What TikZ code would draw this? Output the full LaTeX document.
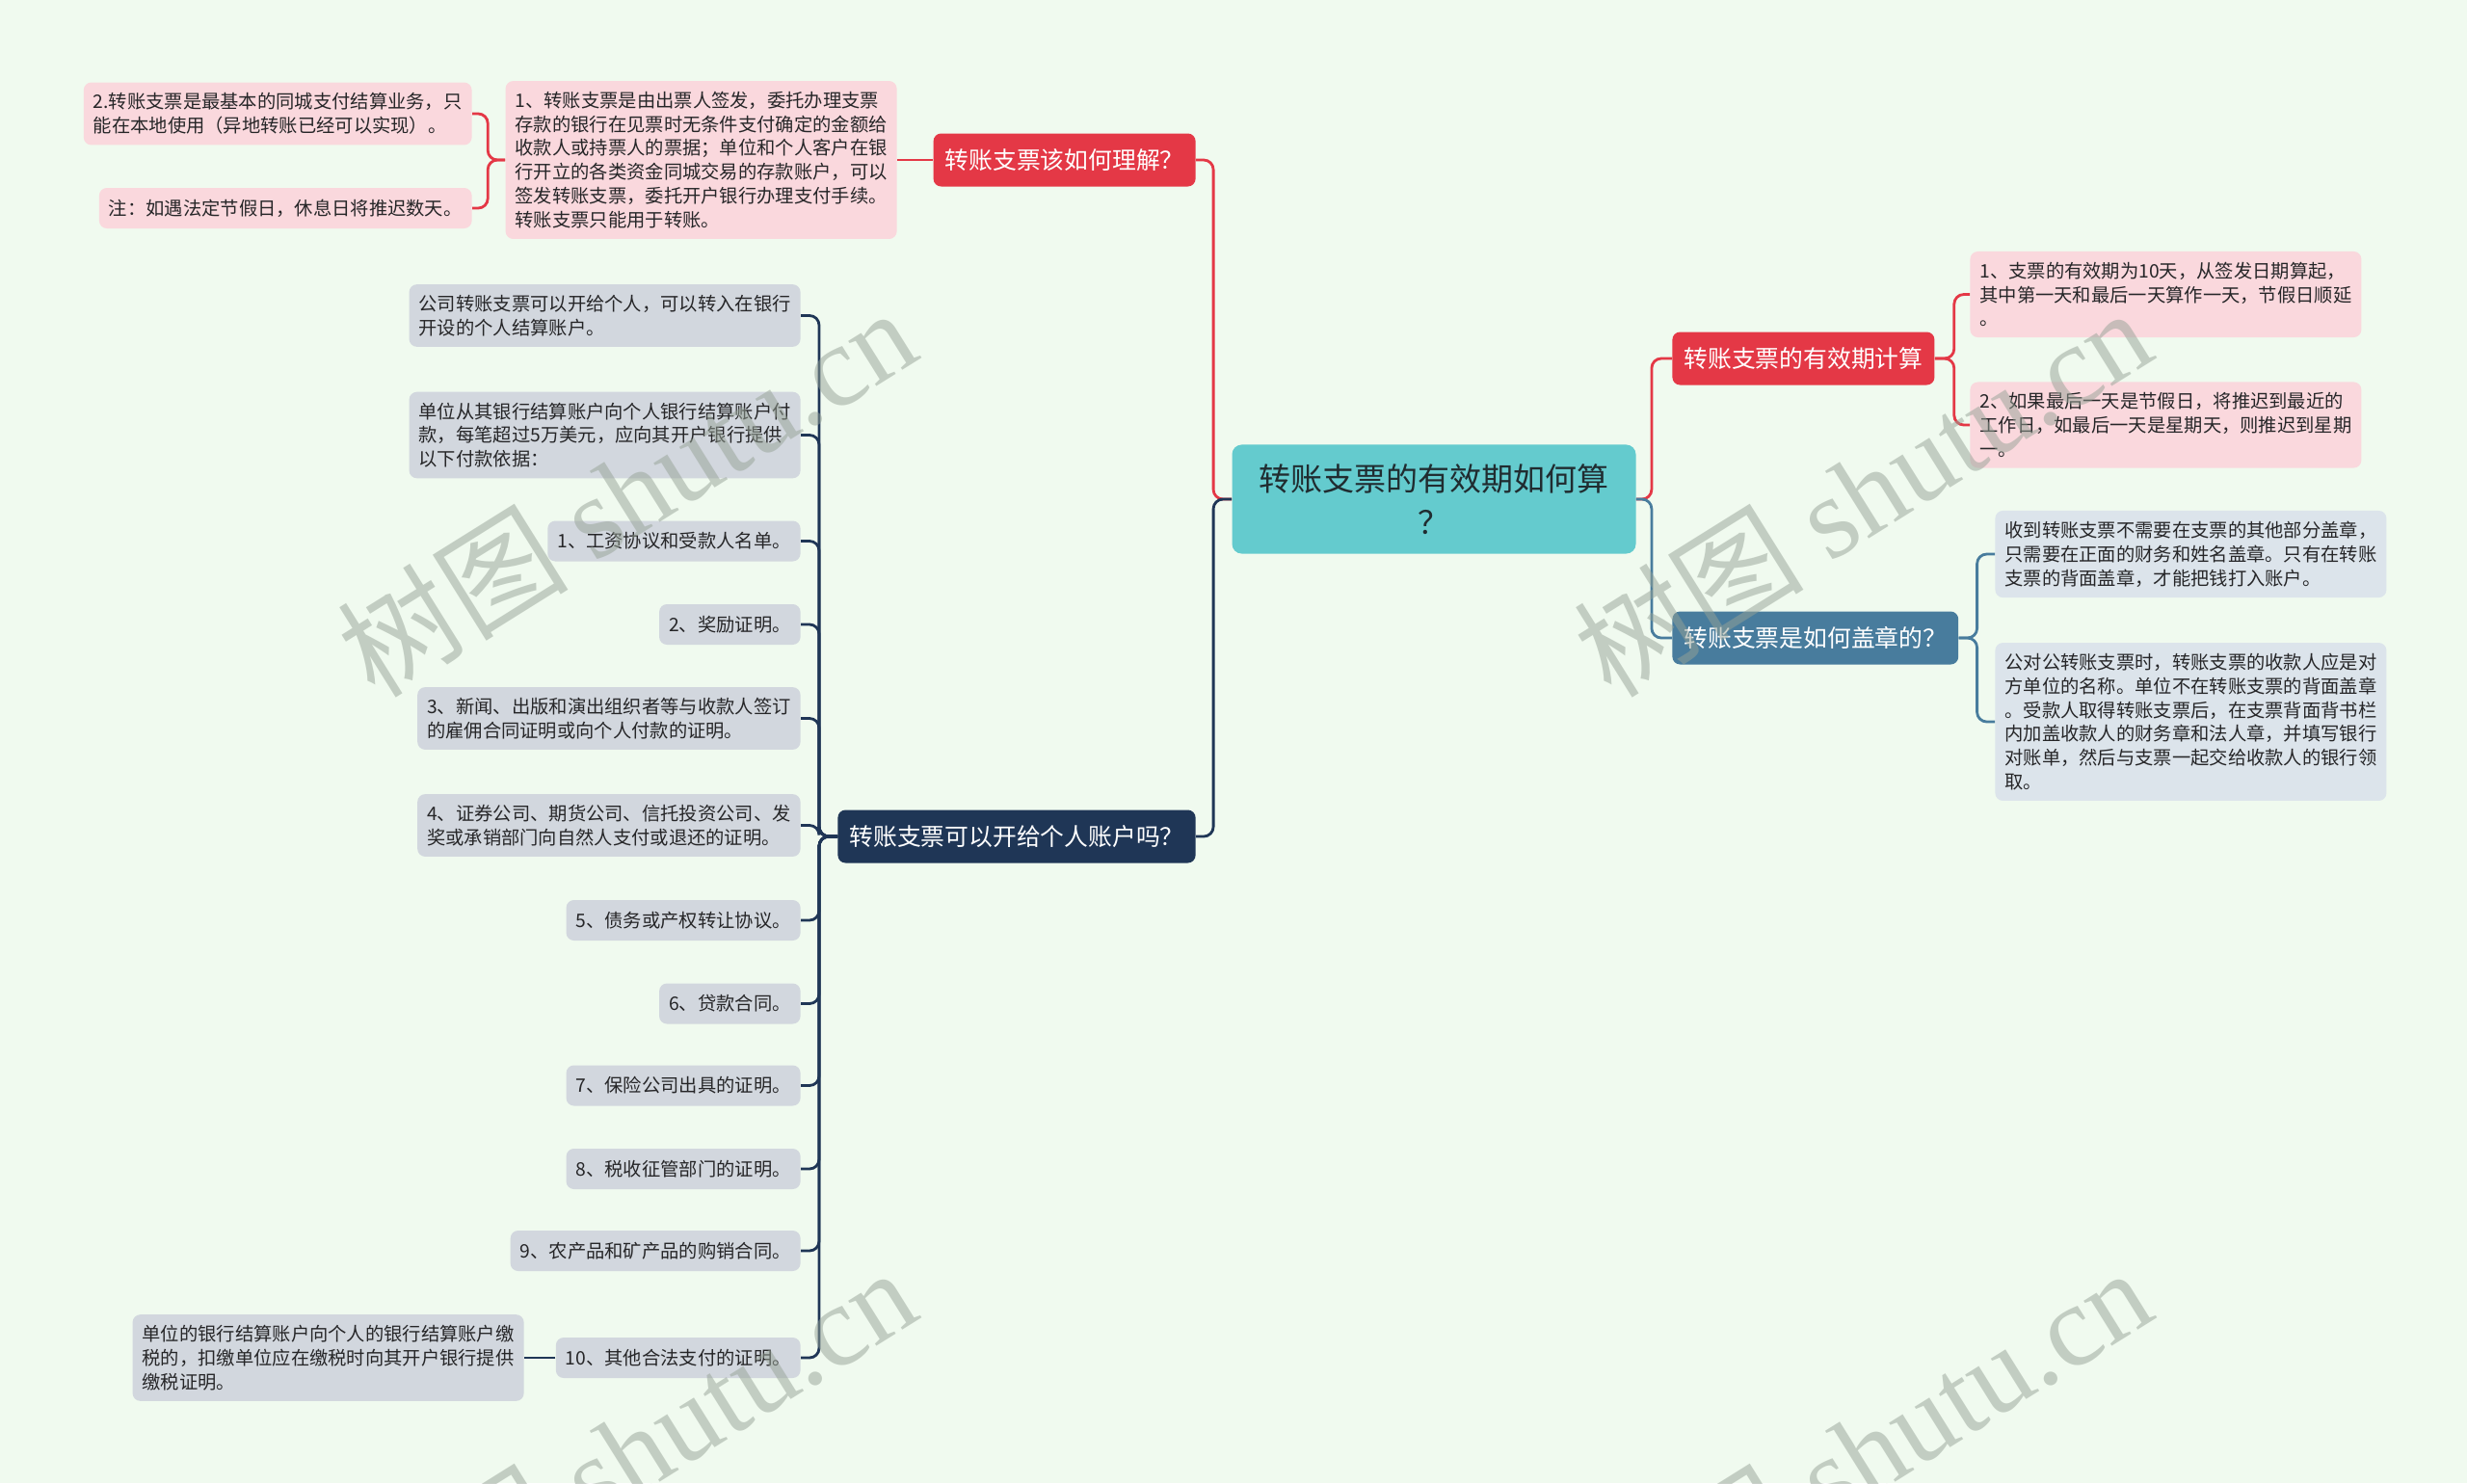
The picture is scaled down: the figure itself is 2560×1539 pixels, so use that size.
\documentclass[tikz,border=0pt]{standalone}
\usepackage{fontspec}
\setmainfont{Noto Sans CJK SC}
\newfontfamily\wmfont{Liberation Serif}

\definecolor{bgmint}{RGB}{240,250,239}
\definecolor{rootteal}{RGB}{100,203,206}
\definecolor{rootink}{RGB}{32,44,48}
\definecolor{topicred}{RGB}{228,56,70}
\definecolor{topicnavy}{RGB}{31,54,86}
\definecolor{topicsteel}{RGB}{72,124,157}
\definecolor{leafpink}{RGB}{250,216,221}
\definecolor{leafgray}{RGB}{210,215,222}
\definecolor{leafblue}{RGB}{220,228,235}
\definecolor{leafink}{RGB}{38,38,40}
\definecolor{wmgray}{RGB}{150,162,150}

\tikzset{
  root/.style={rectangle, rounded corners=5pt, fill=rootteal, text=rootink,
    font=\fontsize{16.5}{22.5}\selectfont, align=center, inner xsep=14pt, inner ysep=10pt},
  topic/.style={rectangle, rounded corners=4pt, fill=#1, text=white,
    font=\fontsize{12.4}{15}\selectfont, inner xsep=6pt, inner ysep=3pt, minimum height=27.5pt},
  leaf/.style={rectangle, rounded corners=4pt, fill=#1, text=leafink,
    font=\fontsize{9.65}{12.4}\selectfont, align=left, inner xsep=5pt, inner ysep=5.5pt, minimum height=21pt},
  link/.style={draw=#1, line width=1.4pt, rounded corners=5pt},
  wmark/.style={text=wmgray, text opacity=0.5, font=\fontsize{60}{60}\selectfont, rotate=32},
}

\begin{document}
\begin{tikzpicture}[x=0.5pt,y=-0.5pt]
\useasboundingbox (0,0) rectangle (2560,1539);
\fill[bgmint] (0,0) rectangle (2560,1539);

% centre and main topics
\node[root] (root) at (1488,518) {转账支票的有效期如何算\\？};
\node[topic=topicred, anchor=east] (understand) at (1241,166) {转账支票该如何理解？};
\node[topic=topicnavy, anchor=east] (personal) at (1241,868) {转账支票可以开给个人账户吗？};
\node[topic=topicred, anchor=west] (validity) at (1735,372) {转账支票的有效期计算};
\node[topic=topicsteel, anchor=west] (stamp) at (1735,662) {转账支票是如何盖章的？};

% understanding
\node[leaf=leafpink, anchor=east] (u1) at (931,166) {1、转账支票是由出票人签发，委托办理支票\\存款的银行在见票时无条件支付确定的金额给\\收款人或持票人的票据；单位和个人客户在银\\行开立的各类资金同城交易的存款账户，可以\\签发转账支票，委托开户银行办理支付手续。\\转账支票只能用于转账。};
\node[leaf=leafpink, anchor=east] (u2) at (490,118) {2.转账支票是最基本的同城支付结算业务，只\\能在本地使用（异地转账已经可以实现）。};
\node[leaf=leafpink, anchor=east] (u3) at (490,216) {注：如遇法定节假日，休息日将推迟数天。};

% personal account
\node[leaf=leafgray, anchor=east] (b1) at (831,327.5) {公司转账支票可以开给个人，可以转入在银行\\开设的个人结算账户。};
\node[leaf=leafgray, anchor=east] (b2) at (831,451.5) {单位从其银行结算账户向个人银行结算账户付\\款，每笔超过5万美元，应向其开户银行提供\\以下付款依据：};
\node[leaf=leafgray, anchor=east] (b3) at (831,561.5) {1、工资协议和受款人名单。};
\node[leaf=leafgray, anchor=east] (b4) at (831,648) {2、奖励证明。};
\node[leaf=leafgray, anchor=east] (b5) at (831,745.5) {3、新闻、出版和演出组织者等与收款人签订\\的雇佣合同证明或向个人付款的证明。};
\node[leaf=leafgray, anchor=east] (b6) at (831,856.5) {4、证券公司、期货公司、信托投资公司、发\\奖或承销部门向自然人支付或退还的证明。};
\node[leaf=leafgray, anchor=east] (b7) at (831,955) {5、债务或产权转让协议。};
\node[leaf=leafgray, anchor=east] (b8) at (831,1041.5) {6、贷款合同。};
\node[leaf=leafgray, anchor=east] (b9) at (831,1126.5) {7、保险公司出具的证明。};
\node[leaf=leafgray, anchor=east] (b10) at (831,1213) {8、税收征管部门的证明。};
\node[leaf=leafgray, anchor=east] (b11) at (831,1298) {9、农产品和矿产品的购销合同。};
\node[leaf=leafgray, anchor=east] (b12) at (831,1409) {10、其他合法支付的证明。};
\node[leaf=leafgray, anchor=east] (b13) at (544,1409) {单位的银行结算账户向个人的银行结算账户缴\\税的，扣缴单位应在缴税时向其开户银行提供\\缴税证明。};

% validity
\node[leaf=leafpink, anchor=west] (v1) at (2044,305.5) {1、支票的有效期为10天，从签发日期算起，\\其中第一天和最后一天算作一天，节假日顺延\\。};
\node[leaf=leafpink, anchor=west] (v2) at (2044,441) {2、如果最后一天是节假日，将推迟到最近的\\工作日，如最后一天是星期天，则推迟到星期\\一。};

% stamping
\node[leaf=leafblue, anchor=west] (s1) at (2070,575) {收到转账支票不需要在支票的其他部分盖章，\\只需要在正面的财务和姓名盖章。只有在转账\\支票的背面盖章，才能把钱打入账户。};
\node[leaf=leafblue, anchor=west] (s2) at (2070,749) {公对公转账支票时，转账支票的收款人应是对\\方单位的名称。单位不在转账支票的背面盖章\\。受款人取得转账支票后，在支票背面背书栏\\内加盖收款人的财务章和法人章，并填写银行\\对账单，然后与支票一起交给收款人的银行领\\取。};

% connectors
\draw[link=topicred] (root.west) -- ++(-19,0) |- (understand.east);
\draw[link=topicnavy] (root.west) -- ++(-19,0) |- (personal.east);
\draw[link=topicred] (root.east) -- ++(16,0) |- (validity.west);
\draw[link=topicsteel] (root.east) -- ++(16,0) |- (stamp.west);

\draw[link=topicred] (understand.west) -- (u1.east);
\foreach \k in {u2,u3}
  \draw[link=topicred] (u1.west) -- ++(-18,0) |- (\k.east);

\foreach \k in {1,...,12}
  \draw[link=topicnavy] (personal.west) -- ++(-19,0) |- (b\k.east);
\draw[link=topicnavy] (b12.west) -- (b13.east);

\foreach \k in {v1,v2}
  \draw[link=topicred] (validity.east) -- ++(20,0) |- (\k.west);
\foreach \k in {s1,s2}
  \draw[link=topicsteel] (stamp.east) -- ++(19,0) |- (\k.west);

% watermarks
\node[wmark] (wm1) at (650,510) {树图 {\wmfont shutu.cn}};
\node[wmark] (wm2) at (1932,510) {树图 {\wmfont shutu.cn}};
\node[wmark] (wm3) at (650,1506) {树图 {\wmfont shutu.cn}};
\node[wmark] (wm4) at (1932,1506) {树图 {\wmfont shutu.cn}};
\end{tikzpicture}
\end{document}
